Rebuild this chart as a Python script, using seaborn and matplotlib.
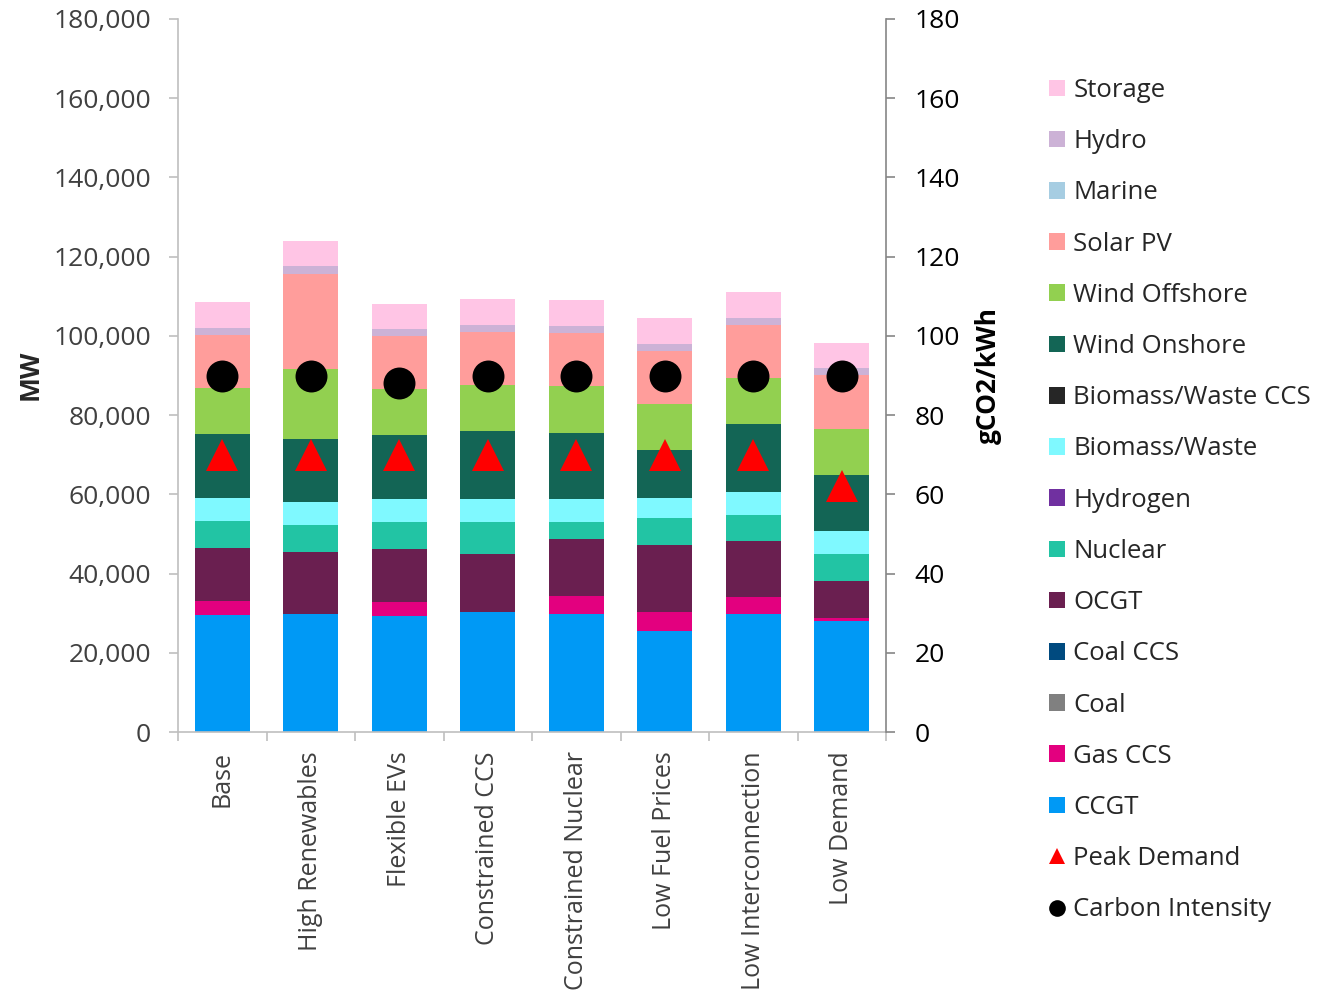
import numpy as np
import pandas as pd
import matplotlib
matplotlib.use("Agg")
import matplotlib.pyplot as plt
from matplotlib.patches import Patch
from matplotlib.lines import Line2D
from matplotlib.ticker import FuncFormatter, FixedLocator
import seaborn as sns

# Scenario names
scenarios = ["Base", "High Renewables", "Flexible EVs", "Constrained CCS",
             "Constrained Nuclear", "Low Fuel Prices", "Low Interconnection",
             "Low Demand"]

# Installed capacity by technology (MW), stacked bottom to top
ccgt = [29500, 29700, 29400, 30400, 29900, 25600, 29900, 27900]
gas_ccs = [3500, 0, 3500, 0, 4500, 4600, 4300, 1000]
coal = [0, 0, 0, 0, 0, 0, 0, 0]
coal_ccs = [0, 0, 0, 0, 0, 0, 0, 0]
ocgt = [13400, 15800, 13200, 14500, 14200, 17000, 14000, 9200]
nuclear = [6800, 6800, 6800, 8000, 4300, 6700, 6600, 6800]
hydrogen = [0, 0, 0, 0, 0, 0, 0, 0]
biomass_waste = [5800, 5800, 5800, 5800, 5900, 5300, 5900, 5800]
biomass_waste_ccs = [0, 0, 0, 0, 0, 0, 0, 0]
wind_onshore = [16200, 15800, 16200, 17200, 16800, 12000, 17000, 14200]
wind_offshore = [11600, 17800, 11600, 11600, 11700, 11600, 11600, 11700]
solar_pv = [13400, 23900, 13400, 13400, 13400, 13400, 13400, 13400]
marine = [0, 0, 0, 0, 0, 0, 0, 0]
hydro = [1850, 1950, 1850, 1800, 1800, 1800, 1800, 1850]
storage = [6500, 6500, 6400, 6500, 6500, 6600, 6500, 6400]

# Markers
peak_demand = [70000, 70000, 70000, 70000, 70000, 70000, 70000, 62000]  # MW
carbon_intensity = [90, 90, 88, 90, 90, 90, 90, 90]  # gCO2/kWh

layers = [
    ("CCGT", ccgt, "#0099F5"),
    ("Gas CCS", gas_ccs, "#E3007F"),
    ("Coal", coal, "#808080"),
    ("Coal CCS", coal_ccs, "#004A7F"),
    ("OCGT", ocgt, "#6A1F50"),
    ("Nuclear", nuclear, "#22C4A4"),
    ("Hydrogen", hydrogen, "#7030A0"),
    ("Biomass/Waste", biomass_waste, "#7FF9FF"),
    ("Biomass/Waste CCS", biomass_waste_ccs, "#262626"),
    ("Wind Onshore", wind_onshore, "#136555"),
    ("Wind Offshore", wind_offshore, "#92D050"),
    ("Solar PV", solar_pv, "#FF9D9B"),
    ("Marine", marine, "#A6CDE2"),
    ("Hydro", hydro, "#CCB2D6"),
    ("Storage", storage, "#FFC5E5"),
]

TICK_FS = 19
XLAB_FS = 18
LEG_FS = 18.5

sns.set_style("white")
plt.rcParams["font.family"] = ["Open Sans", "DejaVu Sans"]

fig = plt.figure(figsize=(13.28, 9.93), dpi=100)
ax = fig.add_axes([178 / 1328, 1 - 732 / 993, 708 / 1328, 713 / 993])

df = pd.DataFrame({name: vals for name, vals, _ in layers}, index=scenarios)
cum = df.cumsum(axis=1)

# Stack by overlaying cumulative totals, tallest first
for name, _, color in reversed(layers):
    sns.barplot(x=scenarios, y=cum[name].values, color=color, saturation=1,
                width=0.62, errorbar=None, linewidth=0, ax=ax, zorder=2)

sns.pointplot(x=scenarios, y=peak_demand, color="#FF0000", markers="^",
              linestyles="none", errorbar=None, markersize=23,
              markeredgewidth=0, ax=ax, zorder=5)

ax2 = ax.twinx()
sns.pointplot(x=scenarios, y=carbon_intensity, color="black", markers="o",
              linestyles="none", errorbar=None, markersize=23,
              markeredgewidth=0, ax=ax2, zorder=5)

ax.set_xlim(-0.5, len(scenarios) - 0.5)
ax.set_ylim(0, 180000)
ax2.set_ylim(0, 180)

ax.set_yticks(np.arange(0, 180001, 20000))
ax.yaxis.set_major_formatter(FuncFormatter(lambda v, p: f"{int(v):,}"))
ax2.set_yticks(np.arange(0, 181, 20))

ax.set_xticks(range(len(scenarios)))
ax.set_xticklabels(scenarios, rotation=90, ha="center", va="top",
                   fontsize=XLAB_FS, color="#404040")
ax.xaxis.set_minor_locator(FixedLocator(np.arange(-0.5, len(scenarios), 1.0)))
ax.tick_params(axis="x", which="major", length=0, pad=14)
ax.tick_params(axis="x", which="minor", length=6.5, width=1.2,
               color="#BFBFBF", direction="out", bottom=True)
ax.tick_params(axis="y", which="major", length=6.5, width=1.2,
               color="#BFBFBF", direction="out", left=True, pad=13,
               labelsize=TICK_FS, labelcolor="#404040")
ax2.tick_params(axis="y", which="major", length=6.5, width=1.2,
                color="#868686", direction="out", right=True, pad=14,
                labelsize=TICK_FS, labelcolor="black")

for a in (ax, ax2):
    a.set_xlabel("")
    a.set_ylabel("")
    a.grid(False)
    a.spines["top"].set_visible(False)
ax.spines["right"].set_visible(False)
ax2.spines["left"].set_visible(False)
ax2.spines["bottom"].set_visible(False)
ax.spines["left"].set_color("#BFBFBF")
ax.spines["bottom"].set_color("#BFBFBF")
ax.spines["left"].set_linewidth(1.2)
ax.spines["bottom"].set_linewidth(1.2)
ax2.spines["right"].set_color("#868686")
ax2.spines["right"].set_linewidth(1.2)

fig.text(30 / 1328, 1 - 375 / 993, "MW", rotation=90, ha="center",
         va="center", fontsize=TICK_FS, fontweight="bold", color="#262626")
fig.text(988 / 1328, 1 - 375 / 993, "gCO2/kWh", rotation=90, ha="center",
         va="center", fontsize=TICK_FS, fontweight="bold", color="black")

handles = [Patch(facecolor=c, edgecolor="none", label=n)
           for n, _, c in reversed(layers)]
handles.append(Line2D([], [], linestyle="none", marker="^", color="#FF0000",
                      markersize=12, markeredgewidth=0, label="Peak Demand"))
handles.append(Line2D([], [], linestyle="none", marker="o", color="black",
                      markersize=12, markeredgewidth=0, label="Carbon Intensity"))
fig.legend(handles=handles, loc="upper left",
           bbox_to_anchor=(1049 / 1328, 1 - 78 / 993), frameon=False,
           fontsize=LEG_FS, handlelength=0.62, handleheight=0.62,
           handletextpad=0.32, labelspacing=1.02, borderpad=0,
           borderaxespad=0)

fig.savefig("out.png", dpi=100)
